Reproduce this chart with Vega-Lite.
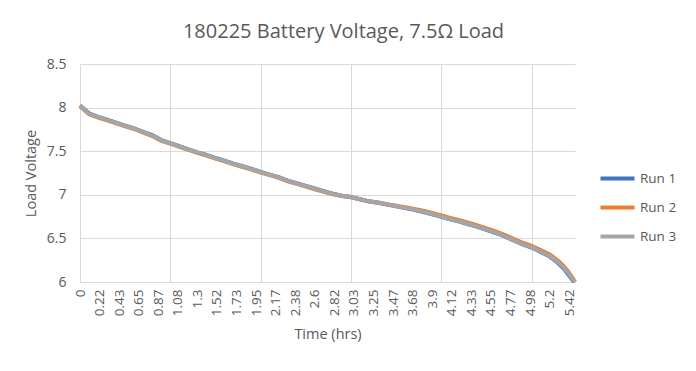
{
  "$schema": "https://vega.github.io/schema/vega-lite/v6.json",
  "width": 495,
  "height": 218,
  "autosize": "none",
  "padding": {"left": 80, "top": 64, "right": 121, "bottom": 89},
  "background": "white",
  "config": {
    "view": {"stroke": null},
    "font": "Open Sans",
    "axis": {"labelColor": "#595959", "titleColor": "#595959", "gridColor": "#D9D9D9", "domainColor": "#D9D9D9", "ticks": false, "labelFont": "Open Sans", "titleFont": "Open Sans", "titleFontWeight": "normal"},
    "legend": {"labelColor": "#595959", "labelFont": "Open Sans"}
  },
  "title": {"text": "180225 Battery Voltage, 7.5Ω Load", "fontSize": 20, "font": "Open Sans", "fontWeight": "normal", "color": "#595959", "offset": 15, "dx": 16, "anchor": "middle"},
  "datasets": {
    "runs": [
      {"run": "Run 1", "t": 0.0, "v": 8.025}, {"run": "Run 1", "t": 0.1, "v": 7.935}, {"run": "Run 1", "t": 0.2, "v": 7.893}, {"run": "Run 1", "t": 0.3, "v": 7.862}, {"run": "Run 1", "t": 0.4, "v": 7.828}, {"run": "Run 1", "t": 0.5, "v": 7.792}, {"run": "Run 1", "t": 0.6, "v": 7.762}, {"run": "Run 1", "t": 0.7, "v": 7.723}, {"run": "Run 1", "t": 0.8, "v": 7.685}, {"run": "Run 1", "t": 0.9, "v": 7.628}, {"run": "Run 1", "t": 1.0, "v": 7.593}, {"run": "Run 1", "t": 1.1, "v": 7.557}, {"run": "Run 1", "t": 1.2, "v": 7.522}, {"run": "Run 1", "t": 1.3, "v": 7.487}, {"run": "Run 1", "t": 1.4, "v": 7.457}, {"run": "Run 1", "t": 1.5, "v": 7.422}, {"run": "Run 1", "t": 1.6, "v": 7.392}, {"run": "Run 1", "t": 1.7, "v": 7.357}, {"run": "Run 1", "t": 1.8, "v": 7.327}, {"run": "Run 1", "t": 1.9, "v": 7.297}, {"run": "Run 1", "t": 2.0, "v": 7.262}, {"run": "Run 1", "t": 2.1, "v": 7.232}, {"run": "Run 1", "t": 2.2, "v": 7.202}, {"run": "Run 1", "t": 2.3, "v": 7.162}, {"run": "Run 1", "t": 2.4, "v": 7.132}, {"run": "Run 1", "t": 2.5, "v": 7.102}, {"run": "Run 1", "t": 2.6, "v": 7.072}, {"run": "Run 1", "t": 2.7, "v": 7.042}, {"run": "Run 1", "t": 2.8, "v": 7.012}, {"run": "Run 1", "t": 2.9, "v": 6.99}, {"run": "Run 1", "t": 3.0, "v": 6.974}, {"run": "Run 1", "t": 3.1, "v": 6.949}, {"run": "Run 1", "t": 3.2, "v": 6.924}, {"run": "Run 1", "t": 3.3, "v": 6.908}, {"run": "Run 1", "t": 3.4, "v": 6.888}, {"run": "Run 1", "t": 3.5, "v": 6.868}, {"run": "Run 1", "t": 3.6, "v": 6.848}, {"run": "Run 1", "t": 3.7, "v": 6.828}, {"run": "Run 1", "t": 3.8, "v": 6.803}, {"run": "Run 1", "t": 3.9, "v": 6.777}, {"run": "Run 1", "t": 4.0, "v": 6.748}, {"run": "Run 1", "t": 4.1, "v": 6.718}, {"run": "Run 1", "t": 4.2, "v": 6.692}, {"run": "Run 1", "t": 4.3, "v": 6.662}, {"run": "Run 1", "t": 4.4, "v": 6.632}, {"run": "Run 1", "t": 4.5, "v": 6.597}, {"run": "Run 1", "t": 4.6, "v": 6.562}, {"run": "Run 1", "t": 4.7, "v": 6.522}, {"run": "Run 1", "t": 4.8, "v": 6.477}, {"run": "Run 1", "t": 4.9, "v": 6.432}, {"run": "Run 1", "t": 5.0, "v": 6.395}, {"run": "Run 1", "t": 5.1, "v": 6.345}, {"run": "Run 1", "t": 5.2, "v": 6.292}, {"run": "Run 1", "t": 5.3, "v": 6.21}, {"run": "Run 1", "t": 5.35, "v": 6.16}, {"run": "Run 1", "t": 5.4, "v": 6.095}, {"run": "Run 1", "t": 5.45, "v": 6.025}, {"run": "Run 1", "t": 5.47, "v": 6.0},
      {"run": "Run 2", "t": 0.0, "v": 8.015}, {"run": "Run 2", "t": 0.1, "v": 7.924}, {"run": "Run 2", "t": 0.2, "v": 7.884}, {"run": "Run 2", "t": 0.3, "v": 7.854}, {"run": "Run 2", "t": 0.4, "v": 7.819}, {"run": "Run 2", "t": 0.5, "v": 7.784}, {"run": "Run 2", "t": 0.6, "v": 7.755}, {"run": "Run 2", "t": 0.7, "v": 7.714}, {"run": "Run 2", "t": 0.8, "v": 7.674}, {"run": "Run 2", "t": 0.9, "v": 7.619}, {"run": "Run 2", "t": 1.0, "v": 7.586}, {"run": "Run 2", "t": 1.1, "v": 7.55}, {"run": "Run 2", "t": 1.2, "v": 7.515}, {"run": "Run 2", "t": 1.3, "v": 7.48}, {"run": "Run 2", "t": 1.4, "v": 7.45}, {"run": "Run 2", "t": 1.5, "v": 7.415}, {"run": "Run 2", "t": 1.6, "v": 7.384}, {"run": "Run 2", "t": 1.7, "v": 7.35}, {"run": "Run 2", "t": 1.8, "v": 7.319}, {"run": "Run 2", "t": 1.9, "v": 7.289}, {"run": "Run 2", "t": 2.0, "v": 7.255}, {"run": "Run 2", "t": 2.1, "v": 7.225}, {"run": "Run 2", "t": 2.2, "v": 7.194}, {"run": "Run 2", "t": 2.3, "v": 7.155}, {"run": "Run 2", "t": 2.4, "v": 7.125}, {"run": "Run 2", "t": 2.5, "v": 7.095}, {"run": "Run 2", "t": 2.6, "v": 7.064}, {"run": "Run 2", "t": 2.7, "v": 7.035}, {"run": "Run 2", "t": 2.8, "v": 7.006}, {"run": "Run 2", "t": 2.9, "v": 6.986}, {"run": "Run 2", "t": 3.0, "v": 6.972}, {"run": "Run 2", "t": 3.1, "v": 6.948}, {"run": "Run 2", "t": 3.2, "v": 6.925}, {"run": "Run 2", "t": 3.3, "v": 6.911}, {"run": "Run 2", "t": 3.4, "v": 6.892}, {"run": "Run 2", "t": 3.5, "v": 6.876}, {"run": "Run 2", "t": 3.6, "v": 6.858}, {"run": "Run 2", "t": 3.7, "v": 6.839}, {"run": "Run 2", "t": 3.8, "v": 6.817}, {"run": "Run 2", "t": 3.9, "v": 6.792}, {"run": "Run 2", "t": 4.0, "v": 6.764}, {"run": "Run 2", "t": 4.1, "v": 6.735}, {"run": "Run 2", "t": 4.2, "v": 6.71}, {"run": "Run 2", "t": 4.3, "v": 6.68}, {"run": "Run 2", "t": 4.4, "v": 6.65}, {"run": "Run 2", "t": 4.5, "v": 6.615}, {"run": "Run 2", "t": 4.6, "v": 6.58}, {"run": "Run 2", "t": 4.7, "v": 6.54}, {"run": "Run 2", "t": 4.8, "v": 6.495}, {"run": "Run 2", "t": 4.9, "v": 6.45}, {"run": "Run 2", "t": 5.0, "v": 6.415}, {"run": "Run 2", "t": 5.1, "v": 6.366}, {"run": "Run 2", "t": 5.2, "v": 6.316}, {"run": "Run 2", "t": 5.3, "v": 6.238}, {"run": "Run 2", "t": 5.35, "v": 6.188}, {"run": "Run 2", "t": 5.4, "v": 6.128}, {"run": "Run 2", "t": 5.45, "v": 6.05}, {"run": "Run 2", "t": 5.48, "v": 6.0},
      {"run": "Run 3", "t": 0.0, "v": 8.02}, {"run": "Run 3", "t": 0.1, "v": 7.93}, {"run": "Run 3", "t": 0.2, "v": 7.89}, {"run": "Run 3", "t": 0.3, "v": 7.86}, {"run": "Run 3", "t": 0.4, "v": 7.825}, {"run": "Run 3", "t": 0.5, "v": 7.79}, {"run": "Run 3", "t": 0.6, "v": 7.76}, {"run": "Run 3", "t": 0.7, "v": 7.72}, {"run": "Run 3", "t": 0.8, "v": 7.68}, {"run": "Run 3", "t": 0.9, "v": 7.625}, {"run": "Run 3", "t": 1.0, "v": 7.59}, {"run": "Run 3", "t": 1.1, "v": 7.555}, {"run": "Run 3", "t": 1.2, "v": 7.52}, {"run": "Run 3", "t": 1.3, "v": 7.485}, {"run": "Run 3", "t": 1.4, "v": 7.455}, {"run": "Run 3", "t": 1.5, "v": 7.42}, {"run": "Run 3", "t": 1.6, "v": 7.39}, {"run": "Run 3", "t": 1.7, "v": 7.355}, {"run": "Run 3", "t": 1.8, "v": 7.325}, {"run": "Run 3", "t": 1.9, "v": 7.295}, {"run": "Run 3", "t": 2.0, "v": 7.26}, {"run": "Run 3", "t": 2.1, "v": 7.23}, {"run": "Run 3", "t": 2.2, "v": 7.2}, {"run": "Run 3", "t": 2.3, "v": 7.16}, {"run": "Run 3", "t": 2.4, "v": 7.13}, {"run": "Run 3", "t": 2.5, "v": 7.1}, {"run": "Run 3", "t": 2.6, "v": 7.07}, {"run": "Run 3", "t": 2.7, "v": 7.04}, {"run": "Run 3", "t": 2.8, "v": 7.01}, {"run": "Run 3", "t": 2.9, "v": 6.99}, {"run": "Run 3", "t": 3.0, "v": 6.975}, {"run": "Run 3", "t": 3.1, "v": 6.95}, {"run": "Run 3", "t": 3.2, "v": 6.925}, {"run": "Run 3", "t": 3.3, "v": 6.91}, {"run": "Run 3", "t": 3.4, "v": 6.89}, {"run": "Run 3", "t": 3.5, "v": 6.87}, {"run": "Run 3", "t": 3.6, "v": 6.85}, {"run": "Run 3", "t": 3.7, "v": 6.83}, {"run": "Run 3", "t": 3.8, "v": 6.805}, {"run": "Run 3", "t": 3.9, "v": 6.78}, {"run": "Run 3", "t": 4.0, "v": 6.75}, {"run": "Run 3", "t": 4.1, "v": 6.72}, {"run": "Run 3", "t": 4.2, "v": 6.695}, {"run": "Run 3", "t": 4.3, "v": 6.665}, {"run": "Run 3", "t": 4.4, "v": 6.635}, {"run": "Run 3", "t": 4.5, "v": 6.6}, {"run": "Run 3", "t": 4.6, "v": 6.565}, {"run": "Run 3", "t": 4.7, "v": 6.525}, {"run": "Run 3", "t": 4.8, "v": 6.48}, {"run": "Run 3", "t": 4.9, "v": 6.435}, {"run": "Run 3", "t": 5.0, "v": 6.4}, {"run": "Run 3", "t": 5.1, "v": 6.35}, {"run": "Run 3", "t": 5.2, "v": 6.3}, {"run": "Run 3", "t": 5.3, "v": 6.22}, {"run": "Run 3", "t": 5.35, "v": 6.17}, {"run": "Run 3", "t": 5.4, "v": 6.11}, {"run": "Run 3", "t": 5.45, "v": 6.04}, {"run": "Run 3", "t": 5.48, "v": 6.0}
    ]
  },
  "data": {"name": "runs"},
  "resolve": {"axis": {"x": "independent"}},
  "layer": [
    {
      "mark": {"type": "point", "opacity": 0},
      "encoding": {
        "x": {"field": "t", "type": "quantitative", "scale": {"domain": [0, 5.48], "nice": false, "zero": false},
          "axis": {"orient": "bottom", "values": [0, 1, 2, 3, 4, 5], "labels": false, "domain": false, "grid": true, "title": null}},
        "y": {"field": "v", "type": "quantitative", "scale": {"domain": [6, 8.5], "nice": false, "zero": false},
          "axis": {"values": [6, 6.5, 7, 7.5, 8, 8.5], "format": "~g", "domain": false, "grid": true, "labelFontSize": 14, "labelPadding": 14, "title": "Load Voltage", "titleFontSize": 14.5, "titlePadding": 8}}
      }
    },
    {
      "mark": {"type": "line", "strokeWidth": 4, "interpolate": "linear"},
      "encoding": {
        "x": {"field": "t", "type": "quantitative",
          "axis": {"orient": "bottom", "values": [0, 0.21667, 0.43333, 0.65, 0.86667, 1.08333, 1.3, 1.51667, 1.73333, 1.95, 2.16667, 2.38333, 2.6, 2.81667, 3.03333, 3.25, 3.46667, 3.68333, 3.9, 4.11667, 4.33333, 4.55, 4.76667, 4.98333, 5.2, 5.41667], "format": ".2~f", "labelAngle": -90, "labelFontSize": 13.5, "labelPadding": 7, "grid": false, "domain": true, "labelOverlap": false, "labelBound": false, "labelFlush": false, "title": "Time (hrs)", "titleFontSize": 14.5, "titlePadding": 12}},
        "y": {"field": "v", "type": "quantitative"},
        "strokeWidth": {"field": "run", "type": "nominal", "scale": {"domain": ["Run 1", "Run 2", "Run 3"], "range": [4, 4, 5]}, "legend": null},
        "color": {"field": "run", "type": "nominal", "scale": {"domain": ["Run 1", "Run 2", "Run 3"], "range": ["#4472C4", "#ED7D31", "#A5A5A5"]},
          "legend": {"title": null, "orient": "none", "legendX": 527, "legendY": 104, "padding": 0, "symbolType": "M-2,0H2", "symbolSize": 289, "symbolStrokeWidth": 4, "labelOffset": 12, "labelFontSize": 13.5, "rowPadding": 10}}
      }
    }
  ]
}
